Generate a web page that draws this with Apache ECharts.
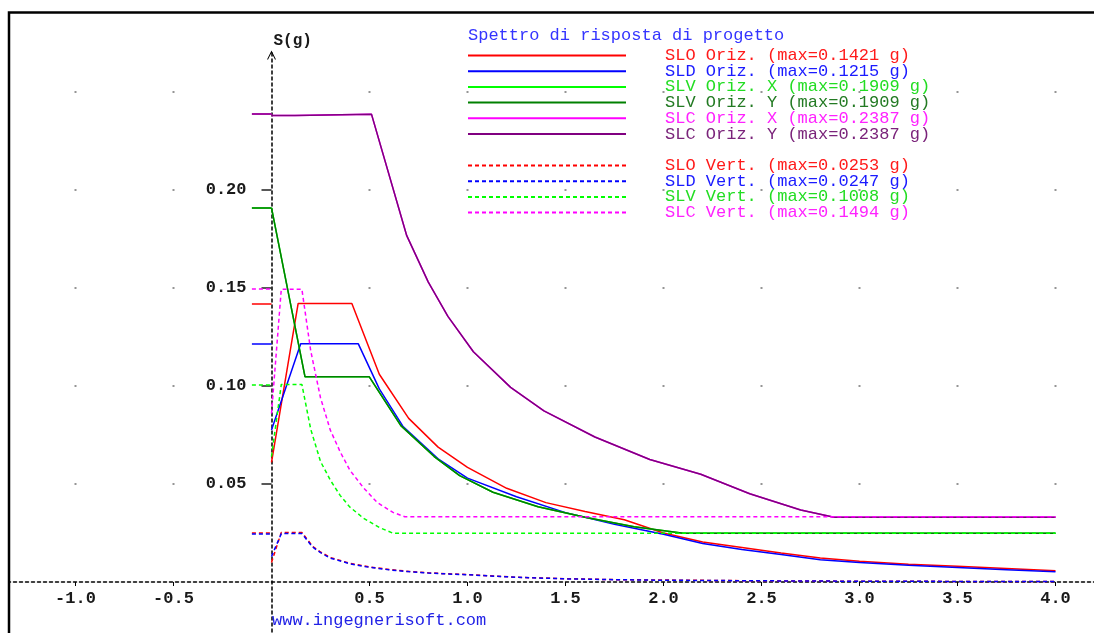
<!DOCTYPE html>
<html>
<head>
<meta charset="utf-8">
<title>Spettro di risposta di progetto</title>
<script src="https://cdn.jsdelivr.net/npm/echarts@6/dist/echarts.min.js"></script>
<style>
  html, body { margin: 0; padding: 0; background: #fff; }
  #chart { width: 1094px; height: 633px; }
</style>
</head>
<body>
<div id="chart"></div>
<script>
// [T (s), S (g)]
const sloOriz = [[0, 0.061], [0.136, 0.1421], [0.41, 0.1421], [0.55, 0.106], [0.70, 0.0835], [0.85, 0.0688],
  [1.0, 0.0585], [1.2, 0.0478], [1.4, 0.0405], [1.6, 0.0360], [1.8, 0.0318], [2.0, 0.0250], [2.2, 0.0204],
  [2.4, 0.0176], [2.6, 0.0148], [2.8, 0.0122], [3.0, 0.0106], [3.25, 0.0090], [3.5, 0.0080], [3.75, 0.0069], [4.0, 0.0058]];
const sldOriz = [[0, 0.0776], [0.149, 0.1215], [0.443, 0.1215], [0.55, 0.0985], [0.67, 0.0795], [0.85, 0.0628],
  [1.0, 0.0530], [1.25, 0.0435], [1.5, 0.0354], [1.75, 0.0295], [2.0, 0.0244], [2.2, 0.0196], [2.4, 0.0166],
  [2.6, 0.0140], [2.8, 0.0114], [3.0, 0.0099], [3.25, 0.0085], [3.5, 0.0074], [3.75, 0.0063], [4.0, 0.0052]];
const slvOrizX = [[0, 0.1909], [0.171, 0.1047], [0.499, 0.1047], [0.66, 0.0798], [0.83, 0.0640], [0.96, 0.0543],
  [1.13, 0.0458], [1.36, 0.0384], [1.6, 0.0330], [1.85, 0.0282], [2.1, 0.0249], [4.0, 0.0249]];
const slvOrizY = [[0, 0.1909], [0.171, 0.1047], [0.499, 0.1047], [0.66, 0.0798], [0.83, 0.0640], [0.96, 0.0543],
  [1.13, 0.0458], [1.36, 0.0384], [1.6, 0.0330], [1.85, 0.0282], [2.1, 0.0249], [4.0, 0.0249]];
const slcOrizX = [[0, 0.2380], [0.12, 0.2380], [0.13, 0.2387], [0.51, 0.2387], [0.69, 0.1767], [0.80, 0.1530],
  [0.90, 0.1355], [1.03, 0.1175], [1.22, 0.0993], [1.39, 0.0873], [1.65, 0.0740], [1.93, 0.0625], [2.19, 0.0550],
  [2.44, 0.0450], [2.70, 0.0367], [2.87, 0.0330], [4.0, 0.0330]];
const slcOrizY = [[0, 0.2380], [0.12, 0.2380], [0.13, 0.2387], [0.51, 0.2387], [0.69, 0.1767], [0.80, 0.1530],
  [0.90, 0.1355], [1.03, 0.1175], [1.22, 0.0993], [1.39, 0.0873], [1.65, 0.0740], [1.93, 0.0625], [2.19, 0.0550],
  [2.44, 0.0450], [2.70, 0.0367], [2.87, 0.0330], [4.0, 0.0330]];
const sloVert = [[0, 0.0100], [0.05, 0.0253], [0.155, 0.0253], [0.21, 0.0182], [0.25, 0.0153], [0.30, 0.0125],
  [0.40, 0.0095], [0.50, 0.0077], [0.60, 0.0064], [0.70, 0.0054], [0.80, 0.0047], [0.90, 0.0042], [1.0, 0.0038],
  [1.25, 0.0024], [1.5, 0.0017], [1.75, 0.0012], [2.0, 0.0010], [2.5, 0.0006], [3.0, 0.0004], [3.5, 0.0003], [4.0, 0.0002]];
const sldVert = [[0, 0.0130], [0.05, 0.0247], [0.155, 0.0247], [0.21, 0.0178], [0.25, 0.0150], [0.30, 0.0122],
  [0.40, 0.0093], [0.50, 0.0075], [0.60, 0.0062], [0.70, 0.0053], [0.80, 0.0046], [0.90, 0.0041], [1.0, 0.0037],
  [1.25, 0.0024], [1.5, 0.0016], [1.75, 0.0012], [2.0, 0.0009], [2.5, 0.0006], [3.0, 0.0004], [3.5, 0.0003], [4.0, 0.0002]];
const slvVert = [[0, 0.0640], [0.05, 0.1008], [0.155, 0.1008], [0.20, 0.0780], [0.25, 0.0615], [0.30, 0.0520],
  [0.35, 0.0442], [0.40, 0.0382], [0.47, 0.0325], [0.55, 0.0278], [0.62, 0.0249], [4.0, 0.0249]];
const slcVert = [[0, 0.0860], [0.05, 0.1494], [0.155, 0.1494], [0.20, 0.1180], [0.25, 0.0940], [0.30, 0.0775],
  [0.35, 0.0665], [0.40, 0.0570], [0.47, 0.0480], [0.54, 0.0405], [0.62, 0.0355], [0.68, 0.0333], [4.0, 0.0333]];

const seriesNames = ['SLO Oriz.', 'SLD Oriz.', 'SLV Oriz. X', 'SLV Oriz. Y', 'SLC Oriz. X', 'SLC Oriz. Y',
  'SLO Vert.', 'SLD Vert.', 'SLV Vert.', 'SLC Vert.'];
const seriesMax = [0.1421, 0.1215, 0.1909, 0.1909, 0.2387, 0.2387, 0.0253, 0.0247, 0.1008, 0.1494];
const seriesData = [sloOriz, sldOriz, slvOrizX, slvOrizY, slcOrizX, slcOrizY, sloVert, sldVert, slvVert, slcVert];

const xTicks = [-1.0, -0.5, 0.5, 1.0, 1.5, 2.0, 2.5, 3.0, 3.5, 4.0];
const yTicks = [0.05, 0.10, 0.15, 0.20];
const dotRows = [0.05, 0.10, 0.15, 0.20, 0.25];

const lineColors = ['#ff0000', '#0000ff', '#00ff00', '#008000', '#ff00ff', '#800080',
  '#ff0000', '#0000ff', '#00ff00', '#ff00ff'];
const textColors = ['#ff1a1a', '#1a1aff', '#22dd22', '#237a23', '#ff22ff', '#7a237a',
  '#ff1a1a', '#1a1aff', '#22dd22', '#ff22ff'];

const MONO = '"Liberation Mono", "DejaVu Sans Mono", monospace';
// pixel position of the origin and scale of the reference plot
const ORIGIN_X = 271.5, PX_PER_S = 196;
const ORIGIN_Y = 582, PX_PER_G = 1960;
const X_MIN = -1.5, X_MAX = 4.5, Y_MIN = -0.05, Y_TOP_PX = 50;
const Y_MAX = (ORIGIN_Y - Y_TOP_PX) / PX_PER_G;

const chart = echarts.init(document.getElementById('chart'));

const gridDots = [];
for (let x of xTicks) {
  for (let y of dotRows) {
    gridDots.push([x, y]);
  }
}

const num = v => (v !== null && typeof v === 'object') ? +v.value : +v;
const hasTick = (list, v) => list.some(t => Math.abs(t - num(v)) < 1e-6);

const axisLineStyle = {color: '#000', width: 1.5, type: [3, 3]};
const labelStyle = {color: '#1a1a1a', fontFamily: MONO, fontSize: 17, fontWeight: 'bold'};

const legendItems = (from, to) => seriesNames.slice(from, to).map((name, k) => ({
  name: name,
  textStyle: {color: textColors[from + k]}
}));

const legendBase = {
  orient: 'vertical',
  left: 467,
  padding: 0,
  itemGap: -1.3,
  itemWidth: 158,
  itemHeight: 10,
  selectedMode: false,
  itemStyle: {color: 'rgba(0,0,0,0)', borderWidth: 0, opacity: 0},
  formatter: name => name + ' (max=' + seriesMax[seriesNames.indexOf(name)].toFixed(4) + ' g)',
  textStyle: {fontFamily: MONO, fontSize: 17, lineHeight: 15.7, padding: [0, 0, 0, 34]}
};

const plotLeft = ORIGIN_X + X_MIN * PX_PER_S;
const plotRight = 1094 - (ORIGIN_X + X_MAX * PX_PER_S);
const plotBottom = 633 - (ORIGIN_Y - Y_MIN * PX_PER_G);

chart.setOption({
  animation: false,
  backgroundColor: '#fff',
  title: [
    {
      text: 'Spettro di risposta di progetto',
      left: 468,
      top: 27,
      padding: 0,
      textStyle: {color: '#3434ff', fontFamily: MONO, fontSize: 17, fontWeight: 'normal'}
    },
    {
      text: 'www.ingegnerisoft.com',
      left: 272,
      top: 612,
      padding: 0,
      textStyle: {color: '#2222e6', fontFamily: MONO, fontSize: 17, fontWeight: 'normal'}
    }
  ],
  legend: [
    Object.assign({}, legendBase, {top: 47, data: legendItems(0, 6)}),
    Object.assign({}, legendBase, {top: 157, data: legendItems(6, 10)})
  ],
  grid: [
    // plot area; the axes cross at the origin
    {left: plotLeft, right: plotRight, top: Y_TOP_PX, bottom: plotBottom, containLabel: false, outerBoundsMode: 'none'},
    // same x scale, bottom edge on S = 0: carries the period labels
    {left: plotLeft, right: plotRight, top: Y_TOP_PX, bottom: 633 - ORIGIN_Y, containLabel: false, outerBoundsMode: 'none'},
    // same y scale, left edge on T = 0: carries the acceleration labels
    {left: ORIGIN_X, right: 0, top: Y_TOP_PX, bottom: plotBottom, containLabel: false, outerBoundsMode: 'none'}
  ],
  xAxis: [
    {
      gridIndex: 0,
      type: 'value',
      min: X_MIN,
      max: X_MAX,
      interval: 0.5,
      axisLine: {onZero: true, lineStyle: axisLineStyle},
      axisTick: {show: true, customValues: xTicks, length: 4, lineStyle: {color: '#000', width: 1}},
      axisLabel: {show: false},
      splitLine: {show: false}
    },
    {
      gridIndex: 1,
      type: 'value',
      position: 'bottom',
      min: X_MIN,
      max: X_MAX,
      interval: 0.5,
      axisLine: {show: false, onZero: false},
      axisTick: {show: false},
      axisLabel: Object.assign({
        show: true,
        margin: 8,
        formatter: v => hasTick(xTicks, v) ? num(v).toFixed(1) : ''
      }, labelStyle),
      splitLine: {show: false}
    },
    {gridIndex: 2, type: 'value', show: false}
  ],
  yAxis: [
    {
      gridIndex: 0,
      type: 'value',
      min: Y_MIN,
      max: Y_MAX,
      interval: 0.05,
      name: 'S(g)',
      nameLocation: 'end',
      nameGap: 1,
      nameTextStyle: {color: '#1a1a1a', fontFamily: MONO, fontSize: 16, fontWeight: 'bold', align: 'left', padding: [0, 0, 0, 2]},
      axisLine: {
        onZero: true,
        symbol: ['none', 'path://M0,12L6,0L12,12L10.6,12L6,3L1.4,12Z'],
        symbolSize: [9, 11],
        symbolOffset: [0, -5],
        lineStyle: axisLineStyle
      },
      axisTick: {show: true, customValues: yTicks, length: 10, lineStyle: {color: '#222', width: 1.5}},
      axisLabel: {show: false},
      splitLine: {show: false}
    },
    {gridIndex: 1, type: 'value', show: false},
    {
      gridIndex: 2,
      type: 'value',
      position: 'left',
      min: Y_MIN,
      max: Y_MAX,
      interval: 0.05,
      axisLine: {show: false, onZero: false},
      axisTick: {show: false},
      axisLabel: Object.assign({
        show: true,
        margin: 25,
        formatter: v => hasTick(yTicks, v) ? num(v).toFixed(2) : ''
      }, labelStyle),
      splitLine: {show: false}
    }
  ],
  series: [
    {
      type: 'scatter',
      name: 'grid',
      data: gridDots,
      symbol: 'rect',
      symbolSize: 2,
      itemStyle: {color: '#7a7a7a'},
      silent: true,
      z: 1
    }
  ].concat(seriesNames.map((name, i) => ({
    type: 'line',
    name: name,
    data: seriesData[i],
    symbol: 'none',
    smooth: false,
    color: lineColors[i],
    lineStyle: {color: lineColors[i], width: 1.5, type: i >= 6 ? [4, 3] : 'solid'},
    markLine: {
      silent: true,
      symbol: 'none',
      label: {show: false},
      lineStyle: {color: lineColors[i], width: 1.5, type: i >= 6 ? [4, 3] : 'solid'},
      data: [[{coord: [-0.1, seriesMax[i]]}, {coord: [0, seriesMax[i]]}]]
    },
    z: 2
  }))),
  graphic: [
    {
      // blank margin outside the window frame
      type: 'rect',
      silent: true,
      z: 99,
      shape: {x: 0, y: 0, width: 8, height: 633},
      style: {fill: '#fff'}
    },
    {
      type: 'rect',
      silent: true,
      z: 100,
      shape: {x: 9, y: 12.5, width: 1200, height: 700},
      style: {fill: 'none', stroke: '#000', lineWidth: 2.5}
    }
  ]
});
</script>
</body>
</html>
